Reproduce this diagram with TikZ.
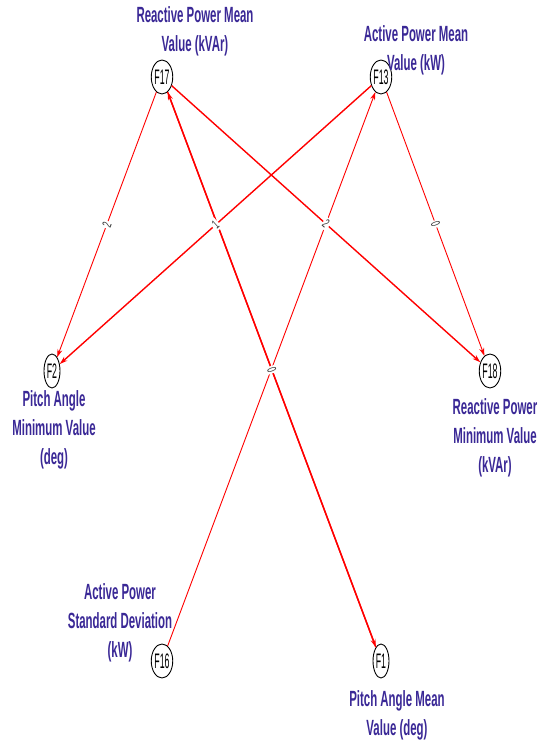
\documentclass[tikz,border=0pt]{standalone}
\usepackage{fontspec}
\usetikzlibrary{shapes.geometric,arrows.meta}
\newfontfamily\lblfont{Liberation Sans}[FakeStretch=0.52]
\newfontfamily\nodefont{Liberation Sans}[FakeStretch=0.42]
\newfontfamily\wfont{Liberation Sans}[FakeStretch=0.6]
\definecolor{lblblue}{RGB}{58,40,150}
\definecolor{edgered}{RGB}{255,0,0}
\tikzset{
  fnode/.style={draw=black, line width=0.9pt, ellipse, minimum width=16pt, minimum height=34pt, inner sep=0pt, font=\nodefont\fontsize{21}{21}\selectfont},
  flabel/.style={text=lblblue, align=center, inner sep=0pt, font=\lblfont\bfseries\fontsize{22}{29}\selectfont},
  edgethick/.style={draw=edgered, line width=1.4pt, -{Stealth[length=8pt,width=5pt]}},
  edgethin/.style={draw=edgered, line width=0.9pt, -{Stealth[length=8pt,width=5pt]}},
  wlabel/.style={sloped, fill=white, inner sep=1.5pt, text=black!80, font=\wfont\fontsize{13}{13}\selectfont}
}
\begin{document}
\begin{tikzpicture}[x=1pt,y=1pt]
\useasboundingbox (0,0) rectangle (546,747);
% nodes (y = 747 - image y)
\node[fnode] (F17) at (162,670) {F17};
\node[fnode] (F13) at (381,670) {F13};
\node[fnode] (F2)  at (52,376)  {F2};
\node[fnode] (F18) at (490,376) {F18};
\node[fnode] (F16) at (162,86)  {F16};
\node[fnode] (F1)  at (381,86)  {F1};
% labels
\node[flabel] (L17) at (195,716) {Reactive Power Mean\\Value (kVAr)};
\node[flabel] (L13) at (416,697) {Active Power Mean\\Value (kW)};
\node[flabel] (L2)  at (54,317)  {Pitch Angle\\Minimum Value\\(deg)};
\node[flabel] (L18) at (495,309) {Reactive Power\\Minimum Value\\(kVAr)};
\node[flabel] (L16) at (120,124) {Active Power\\Standard Deviation\\(kW)};
\node[flabel] (L1)  at (397,32)  {Pitch Angle Mean\\Value (deg)};
% edges
\draw[edgethin]  (F17) -- (F2);
\draw[edgethick] (F13) -- (F2);
\draw[edgethick] (F17) -- (F18);
\draw[edgethin]  (F13) -- (F18);
\draw[edgethin]  (F16) -- (F13);
\draw[edgethick] (F1) -- (F17);
\draw[edgethick] (F17) -- (F1);
% edge weights on top
\path (F17) -- node[wlabel] {2} (F2);
\path (F13) -- node[wlabel] {1} (F2);
\path (F17) -- node[wlabel] {2} (F18);
\path (F13) -- node[wlabel] {0} (F18);
\path (F17) -- node[wlabel] {0} (F1);
\end{tikzpicture}
\end{document}
